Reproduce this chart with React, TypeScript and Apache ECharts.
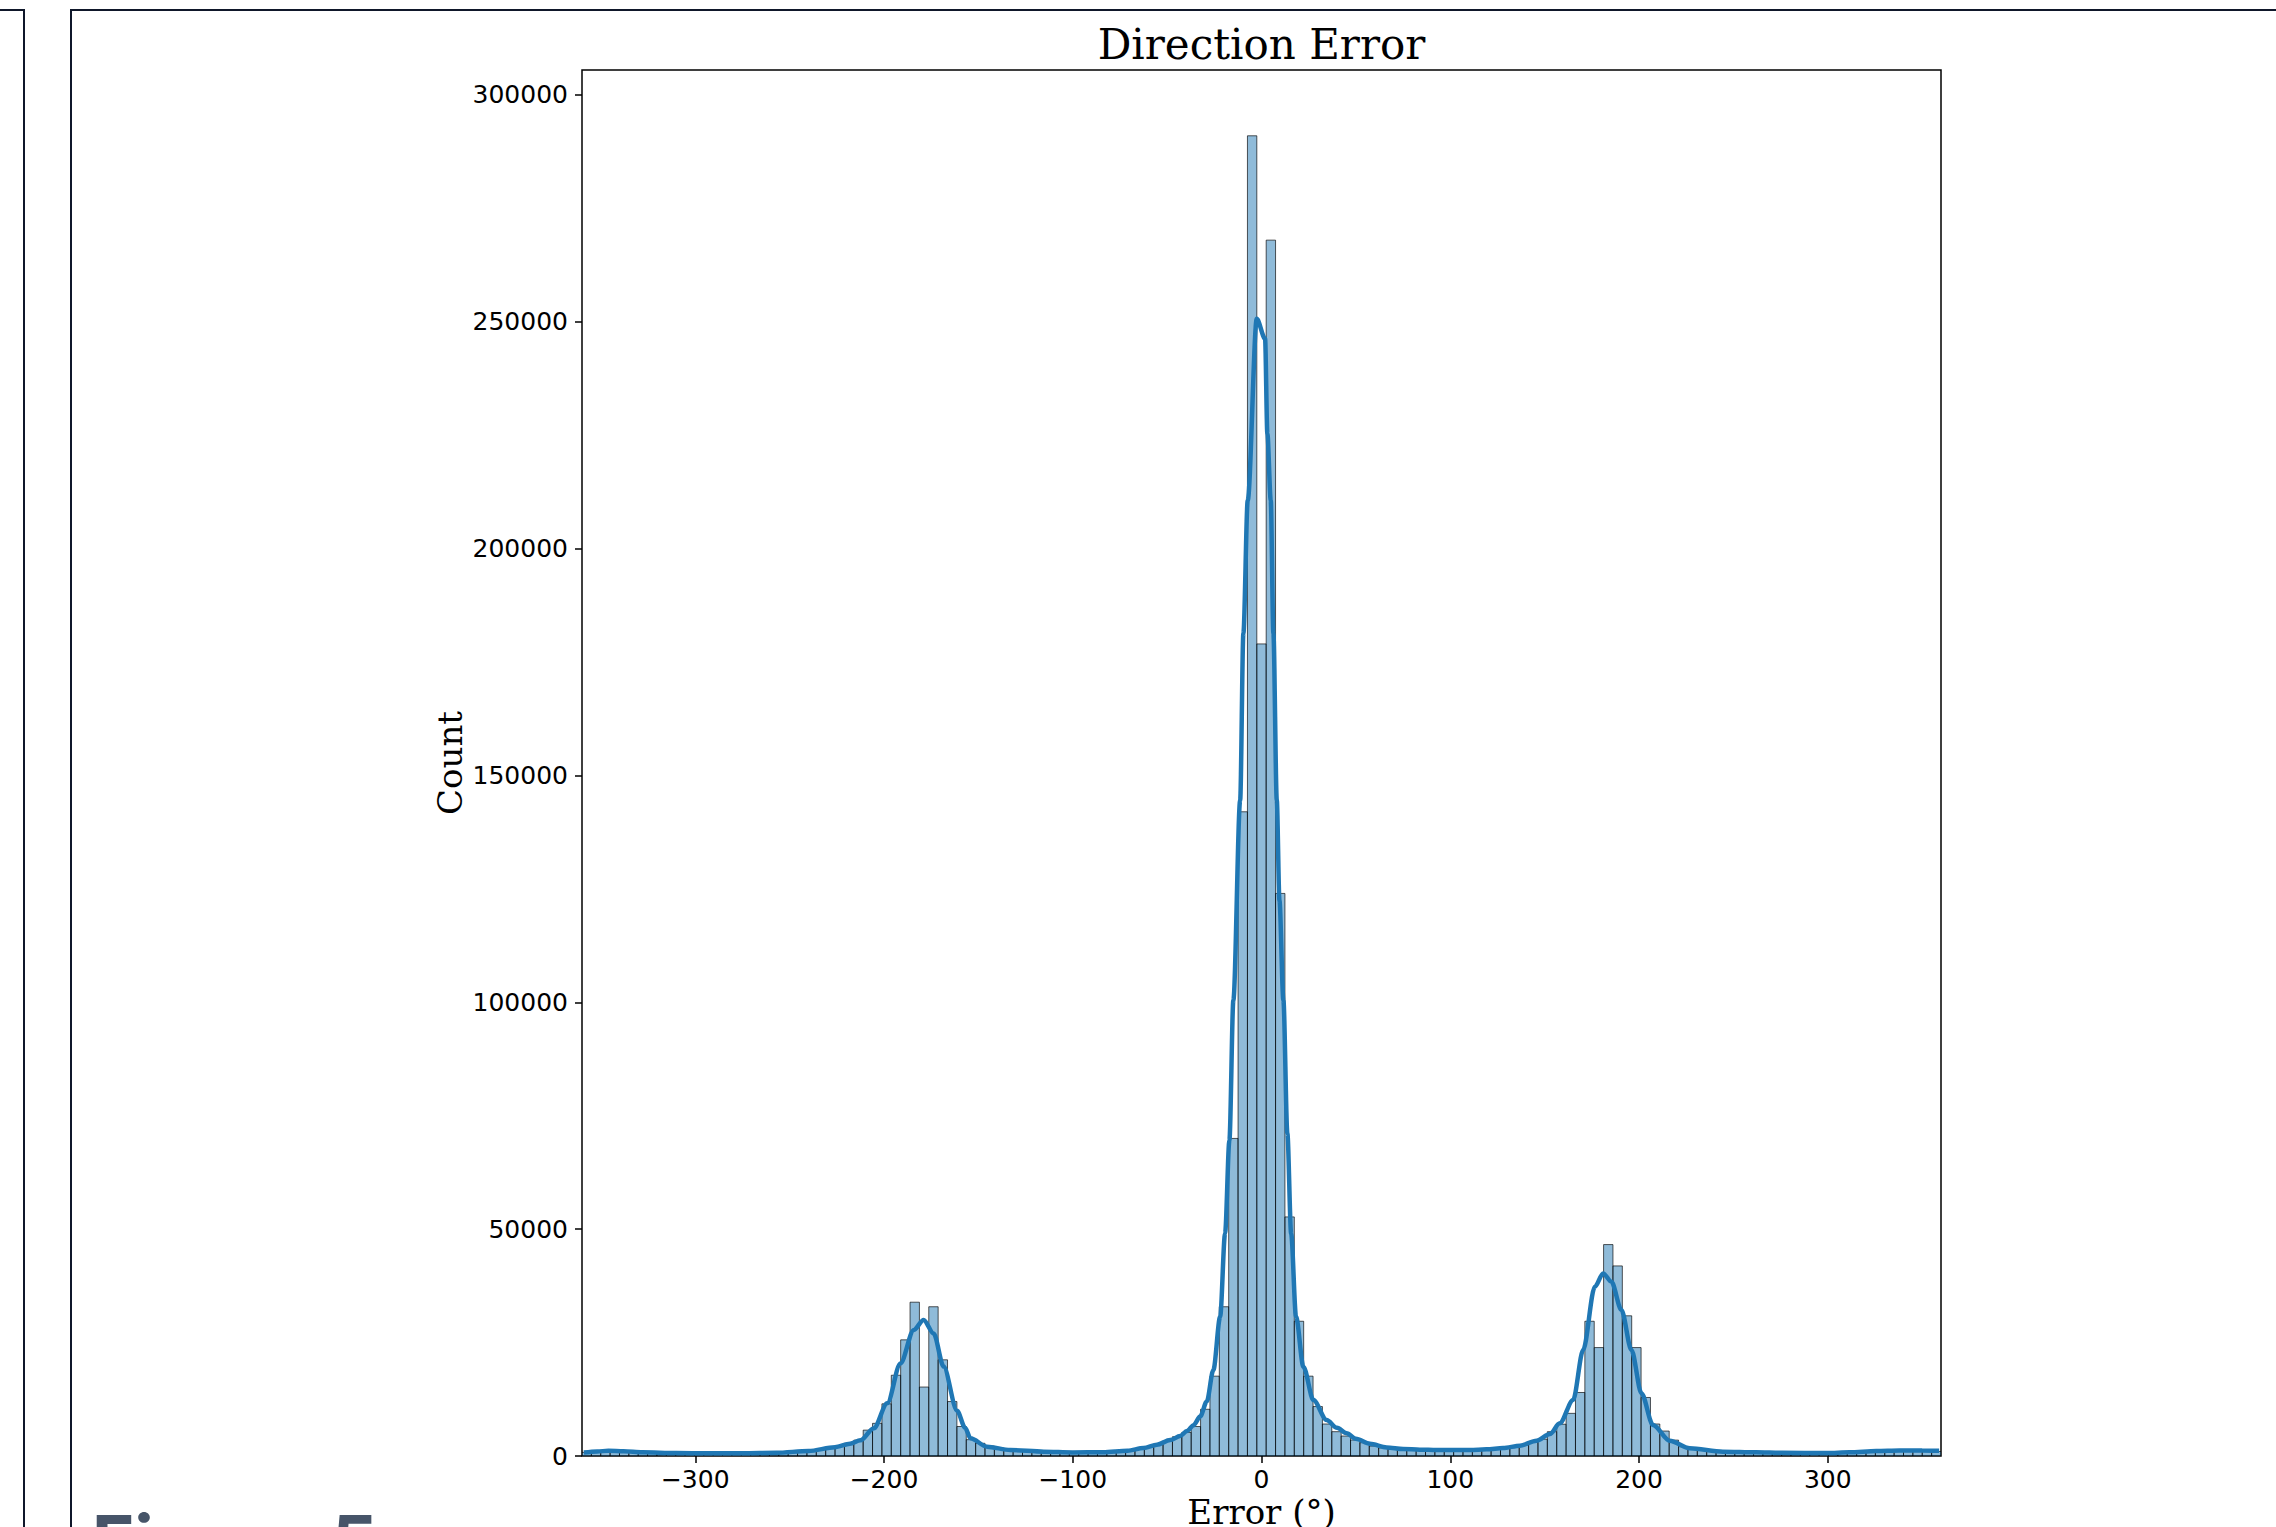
import React, { useEffect, useRef } from "react";
import * as echarts from "echarts";

// ---- data ----
const BIN_MIN = -360;
const BIN_MAX = 360;

// histogram counts, 145 equal bins from BIN_MIN to BIN_MAX
const binCounts = [
  800, 1000, 1050, 1000, 900, 800, 720, 660, 620, 590,
  570, 560, 550, 545, 540, 540, 545, 555, 570, 600,
  650, 720, 820, 950, 1150, 1400, 1750, 2200, 2800, 3500,
  5700, 7200, 11500, 17800, 25600, 33900, 15200, 32900, 21200, 12000,
  6500, 3600, 2800, 2200, 1760, 1470, 1250, 1100, 960, 880,
  850, 810, 800, 800, 820, 850, 900, 1030, 1180, 1470,
  1900, 2500, 3400, 4250, 5200, 6500, 10300, 17600, 32900, 70000,
  142000, 291000, 179000, 268000, 124000, 52700, 29700, 17600, 10900, 7050,
  5360, 4400, 3530, 2940, 2200, 1800, 1550, 1400, 1300, 1250,
  1200, 1200, 1180, 1180, 1200, 1250, 1350, 1500, 1700, 2000,
  2400, 3000, 3700, 5360, 7000, 9400, 14000, 29700, 23900, 46600,
  41900, 30900, 23900, 12900, 7050, 5500, 3500, 2060, 1690, 1470,
  1250, 1175, 1030, 955, 880, 810, 780, 740, 700, 670,
  650, 630, 620, 630, 660, 720, 800, 880, 950, 1000,
  1030, 1040, 1040, 1030, 1000,
];

// KDE curve points
const kdeX = [
  -359, -352, -346, -338, -328, -310, -293, -275, -257, -240,
  -226, -218, -212.5, -205.4, -198.3, -191.3, -184.2, -179, -173.7, -168.4,
  -161.3, -157, -154.2, -145.4, -133.1, -115.4, -100, -84, -71, -62.5,
  -55.4, -48.4, -43.1, -39.5, -36, -32.5, -29, -25.5, -21.9, -19.3,
  -17.0, -14.9, -11.3, -9.6, -7.3, -2.5, 1.9, 3.1, 4.9, 6.3,
  8.1, 9.5, 11.6, 13.7, 15.7, 18.3, 22.2, 27.5, 34.5, 40,
  45.1, 50, 57.5, 66.3, 75.1, 83.9, 92.8, 101.6, 110.4, 119.2,
  128.0, 136.9, 145.7, 152.8, 158, 165.1, 170.4, 176.6, 181, 185.4,
  190.7, 196, 201.3, 207.4, 216.3, 226.9, 244.5, 262, 276, 299.5,
  311.5, 325.7, 338, 350, 359,
];
const kdeY = [
  750, 1000, 1150, 1050, 830, 650, 590, 600, 720, 1100,
  1950, 2700, 3450, 6100, 11600, 20400, 27800, 30000, 27000, 19700,
  10000, 6200, 3900, 2050, 1320, 950, 780, 850, 1175, 1760,
  2500, 3500, 4400, 5500, 6800, 8700, 12000, 18950, 30700, 49060,
  69620, 100470, 144530, 181330, 210630, 250660, 246260, 225400, 210630, 181330,
  144530, 122500, 100470, 71100, 49060, 30700, 19680, 12340, 7930, 6200,
  5000, 3800, 2700, 1900, 1540, 1400, 1320, 1320, 1320, 1470,
  1760, 2280, 3380, 4850, 7200, 12340, 23350, 37300, 40250, 38400,
  32170, 23350, 13810, 6830, 3380, 1690, 950, 800, 700, 660,
  800, 1100, 1220, 1200, 1150,
];

const xTicks = [-300, -200, -100, 0, 100, 200, 300];
const yTicks = [0, 50000, 100000, 150000, 200000, 250000, 300000];
const Y_MAX = 305500;

const TITLE = "Direction Error";
const X_LABEL = "Error (°)";
const Y_LABEL = "Count";
const CAPTION = "Figure 5";

// ---- layout / style ----
const W = 2276;
const H = 1527;
const GRID = { left: 582, top: 70, width: 1359, height: 1386 };
const BAR_FILL = "rgba(31,119,180,0.5)";
const BAR_EDGE = "rgba(0,0,0,0.65)";
const LINE_COLOR = "#1f77b4";
const FRAME = "#0f172a";

export default function App() {
  const ref = useRef<HTMLDivElement>(null);

  useEffect(() => {
    if (!ref.current) return;
    const chart = echarts.init(ref.current, null, { renderer: "svg" });
    const w = (BIN_MAX - BIN_MIN) / binCounts.length;
    const barData = binCounts.map((c, i) => [BIN_MIN + i * w, BIN_MIN + (i + 1) * w, c]);
    const kdeData = kdeX.map((x, i) => [x, kdeY[i]]);
    const fmt = (v: number) => (v < 0 ? "\u2212" + Math.abs(v) : String(v));

    chart.setOption({
      animation: false,
      backgroundColor: "#ffffff",
      grid: {
        left: GRID.left,
        top: GRID.top,
        width: GRID.width,
        height: GRID.height,
        show: true,
        borderColor: "#000",
        borderWidth: 1.5,
        backgroundColor: "transparent",
        containLabel: false,
        outerBoundsMode: "none",
      },
      xAxis: {
        type: "value",
        min: BIN_MIN,
        max: BIN_MAX,
        position: "bottom",
        splitLine: { show: false },
        axisLine: { show: false, onZero: false },
        axisTick: {
          show: true,
          length: 7,
          lineStyle: { color: "#000", width: 1.5 },
          customValues: xTicks,
        },
        axisLabel: {
          customValues: xTicks,
          formatter: (v: number) => fmt(v),
          color: "#000",
          fontFamily: "DejaVu Sans",
          fontSize: 25,
          margin: 11,
        },
      },
      yAxis: {
        type: "value",
        min: 0,
        max: Y_MAX,
        position: "left",
        splitLine: { show: false },
        axisLine: { show: false, onZero: false },
        axisTick: {
          show: true,
          length: 7,
          lineStyle: { color: "#000", width: 1.5 },
          customValues: yTicks,
        },
        axisLabel: {
          customValues: yTicks,
          formatter: (v: number) => String(v),
          color: "#000",
          fontFamily: "DejaVu Sans",
          fontSize: 25,
          margin: 14,
        },
      },
      series: [
        {
          type: "custom",
          z: 2,
          clip: true,
          encode: { x: [0, 1], y: 2 },
          data: barData,
          renderItem: (params: any, api: any) => {
            const x0 = api.value(0);
            const x1 = api.value(1);
            const c = api.value(2);
            const p0 = api.coord([x0, c]);
            const p1 = api.coord([x1, 0]);
            return {
              type: "rect",
              shape: { x: p0[0], y: p0[1], width: p1[0] - p0[0], height: p1[1] - p0[1] },
              style: { fill: BAR_FILL, stroke: BAR_EDGE, lineWidth: 1 },
            };
          },
        },
        {
          type: "line",
          z: 3,
          data: kdeData,
          showSymbol: false,
          symbol: "none",
          smooth: 0.3,
          smoothMonotone: "x",
          clip: true,
          lineStyle: { color: LINE_COLOR, width: 4.5 },
        },
      ],
      graphic: [
        {
          type: "rect",
          z: 0,
          shape: { x: -20, y: 10, width: 44, height: 1700 },
          style: { fill: "none", stroke: FRAME, lineWidth: 2 },
        },
        {
          type: "rect",
          z: 0,
          shape: { x: 71, y: 10, width: 2400, height: 1700 },
          style: { fill: "none", stroke: FRAME, lineWidth: 2 },
        },
        {
          type: "text",
          x: GRID.left + GRID.width / 2,
          y: 44,
          style: {
            text: TITLE,
            fontFamily: "DejaVu Serif",
            fontSize: 42,
            fill: "#000",
            align: "center",
            verticalAlign: "middle",
            textAlign: "center",
            textVerticalAlign: "middle",
          },
        },
        {
          type: "text",
          x: GRID.left + GRID.width / 2,
          y: 1512,
          style: {
            text: X_LABEL,
            fontFamily: "DejaVu Serif",
            fontSize: 34,
            fill: "#000",
            align: "center",
            verticalAlign: "middle",
            textAlign: "center",
            textVerticalAlign: "middle",
          },
        },
        {
          type: "text",
          x: 450,
          y: GRID.top + GRID.height / 2,
          rotation: Math.PI / 2,
          style: {
            text: Y_LABEL,
            fontFamily: "DejaVu Serif",
            fontSize: 34,
            fill: "#000",
            align: "center",
            verticalAlign: "middle",
            textAlign: "center",
            textVerticalAlign: "middle",
          },
        },
        {
          type: "text",
          x: 92,
          y: 1540,
          style: {
            text: CAPTION,
            fontFamily: "Inter, 'Open Sans', sans-serif",
            fontWeight: "bold",
            fontSize: 72,
            fill: "#475569",
            align: "left",
            verticalAlign: "middle",
            textAlign: "left",
            textVerticalAlign: "middle",
          },
        },
      ],
    });
    return () => chart.dispose();
  }, []);

  return (
    <div
      ref={ref}
      style={{ position: "fixed", left: 0, top: 0, width: W, height: H, background: "#fff" }}
    />
  );
}
